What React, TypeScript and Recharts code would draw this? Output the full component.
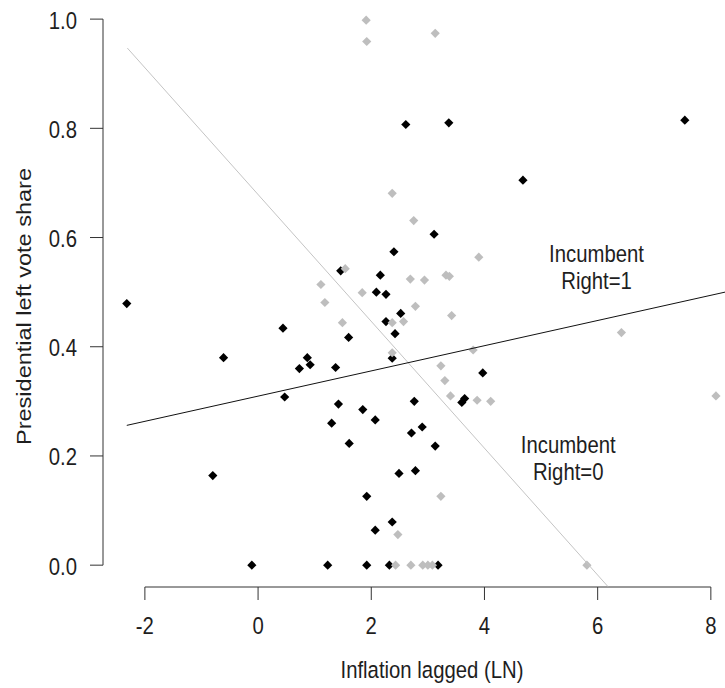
import React from 'react';
import { ScatterChart, Scatter, XAxis, YAxis, ReferenceLine, ReferenceDot, Label } from 'recharts';

// incumbent right = 1 (black diamonds)
const blackX = [
  -2.32, -0.8, -0.61, -0.11, 0.44, 0.47, 0.73, 0.87, 0.92, 1.23, 1.3, 1.37, 1.42, 1.46, 1.6, 1.61,
  1.85, 1.92, 1.92, 2.07, 2.07, 2.09, 2.16, 2.26, 2.26, 2.32, 2.37, 2.37, 2.4, 2.42, 2.49, 2.52,
  2.61, 2.71, 2.76, 2.78, 2.9, 3.11, 3.13, 3.18, 3.37, 3.6, 3.65, 3.97, 4.68, 7.54,
];
const blackY = [
  0.479, 0.164, 0.38, 0.0, 0.434, 0.308, 0.36, 0.38, 0.367, 0.0, 0.26, 0.362, 0.295, 0.539, 0.417, 0.223,
  0.285, 0.126, 0.0, 0.064, 0.266, 0.5, 0.531, 0.496, 0.446, 0.0, 0.079, 0.379, 0.574, 0.424, 0.168, 0.461,
  0.807, 0.242, 0.3, 0.173, 0.253, 0.606, 0.218, 0.0, 0.81, 0.298, 0.305, 0.352, 0.705, 0.815,
];

// incumbent right = 0 (grey diamonds)
const greyX = [
  1.11, 1.18, 1.49, 1.54, 1.84, 1.91, 1.92, 2.37, 2.37, 2.37, 2.43, 2.47, 2.57, 2.69, 2.7, 2.75, 2.78,
  2.91, 2.94, 3.0, 3.08, 3.13, 3.23, 3.23, 3.3, 3.32, 3.38, 3.4, 3.42, 3.8, 3.87, 3.9, 4.11, 5.81, 6.42, 8.09,
];
const greyY = [
  0.514, 0.481, 0.444, 0.543, 0.499, 0.998, 0.959, 0.681, 0.444, 0.389, 0.0, 0.056, 0.446, 0.524, 0.0, 0.631, 0.474,
  0.0, 0.522, 0.0, 0.0, 0.974, 0.365, 0.126, 0.338, 0.531, 0.529, 0.31, 0.457, 0.394, 0.302, 0.564, 0.3, 0.0, 0.426, 0.31,
];

// fitted lines, endpoints
const blackFitX = [-2.32, 8.25];
const blackFitY = [0.256, 0.5];
const greyFitX = [-2.31, 6.18];
const greyFitY = [0.947, -0.039];

const xTicks = [-2, 0, 2, 4, 6, 8];
const yTicks = [0, 0.2, 0.4, 0.6, 0.8, 1.0];
const xDomain = [-2.74, 8.25];
const yDomain = [-0.04, 1.035];

const notes = [
  { x: 5.98, y: 0.546, lines: ['Incumbent', 'Right=1'] },
  { x: 5.48, y: 0.196, lines: ['Incumbent', 'Right=0'] },
];

const toPoints = (xs: number[], ys: number[]) => xs.map((x, i) => ({ x, y: ys[i] }));

const FONT = '"Liberation Sans", Arial, sans-serif';
const FS = 23.5;
const SX = 0.865; // the picture is squeezed sideways
const INK = '#1e1e1e';
const AXIS = '#333';
const ROW = 26.5; // note line spacing, just clear of the glyph boxes

const diamond = (color: string) => (props: any) => {
  const { cx, cy } = props;
  const r = 4.6;
  return <polygon points={`${cx},${cy - r} ${cx + r},${cy} ${cx},${cy + r} ${cx - r},${cy}`} fill={color} />;
};

const noDot = () => <g />;

const XTick = ({ x, y, payload }: any) => (
  <text transform={`translate(${x},${y}) scale(${SX},1)`} textAnchor="middle" dy="0.71em"
    fontFamily={FONT} fontSize={FS} fill={INK}>
    {payload.value}
  </text>
);

const YTick = ({ x, y, payload }: any) => (
  <text transform={`translate(${x},${y}) scale(${SX},1)`} textAnchor="end" dy="0.4em"
    fontFamily={FONT} fontSize={FS} fill={INK}>
    {Number(payload.value).toFixed(1)}
  </text>
);

const XTitle = ({ viewBox }: any) => (
  <text transform={`translate(${viewBox.x + viewBox.width / 2 + 18},${viewBox.y + 91}) scale(${SX},1)`}
    textAnchor="middle" fontFamily={FONT} fontSize={FS} fill={INK}>
    Inflation lagged (LN)
  </text>
);

const YTitle = ({ viewBox }: any) => (
  <text transform={`translate(${viewBox.x + 31},${viewBox.y + viewBox.height / 2 + 13}) rotate(-90) scale(1,${SX})`}
    textAnchor="middle" fontFamily={FONT} fontSize={FS} fill={INK}>
    Presidential left vote share
  </text>
);

const note = (lines: string[]) => (props: any) => {
  const { cx, cy } = props;
  return (
    <g>
      {lines.map((t, i) => (
        <text key={t} transform={`translate(${cx},${cy + (i - 0.5) * ROW}) scale(${SX},1)`}
          textAnchor="middle" dy="0.36em" fontFamily={FONT} fontSize={FS} fill={INK}>
          {t}
        </text>
      ))}
    </g>
  );
};

export default function App() {
  return (
    <div style={{ position: 'absolute', left: 0, top: 0, background: '#fff' }}>
      <ScatterChart width={725} height={688} margin={{ top: 0, right: 0, bottom: 0, left: 0 }}>
        <XAxis type="number" dataKey="x" domain={xDomain} ticks={xTicks} interval={0}
          allowDataOverflow axisLine={false} tickLine={{ stroke: AXIS }} tickSize={13} tickMargin={17}
          height={101} tick={<XTick />}>
          <Label content={<XTitle />} />
        </XAxis>
        <YAxis type="number" dataKey="y" domain={yDomain} ticks={yTicks} interval={0}
          allowDataOverflow axisLine={false} tickLine={{ stroke: AXIS }} tickSize={13} tickMargin={13}
          width={103} tick={<YTick />}>
          <Label content={<YTitle />} />
        </YAxis>

        {/* R style axes: the line only runs from first to last tick */}
        <ReferenceLine segment={[{ x: xTicks[0], y: yDomain[0] }, { x: xTicks[xTicks.length - 1], y: yDomain[0] }]}
          stroke={AXIS} ifOverflow="visible" />
        <ReferenceLine segment={[{ x: xDomain[0], y: yTicks[0] }, { x: xDomain[0], y: yTicks[yTicks.length - 1] }]}
          stroke={AXIS} ifOverflow="visible" />

        <Scatter data={toPoints(blackX, blackY)} fill="#000" shape={diamond('#000')} isAnimationActive={false} />
        <Scatter data={toPoints(greyX, greyY)} fill="#bebebe" shape={diamond('#bebebe')} isAnimationActive={false} />

        <Scatter data={toPoints(greyFitX, greyFitY)} line={{ stroke: '#c4c4c4', strokeWidth: 1 }}
          shape={noDot} isAnimationActive={false} />
        <Scatter data={toPoints(blackFitX, blackFitY)} line={{ stroke: '#111', strokeWidth: 1 }}
          shape={noDot} isAnimationActive={false} />

        {notes.map((n) => (
          <ReferenceDot key={n.lines[1]} x={n.x} y={n.y} r={0} shape={note(n.lines)} ifOverflow="visible" />
        ))}
      </ScatterChart>
    </div>
  );
}
